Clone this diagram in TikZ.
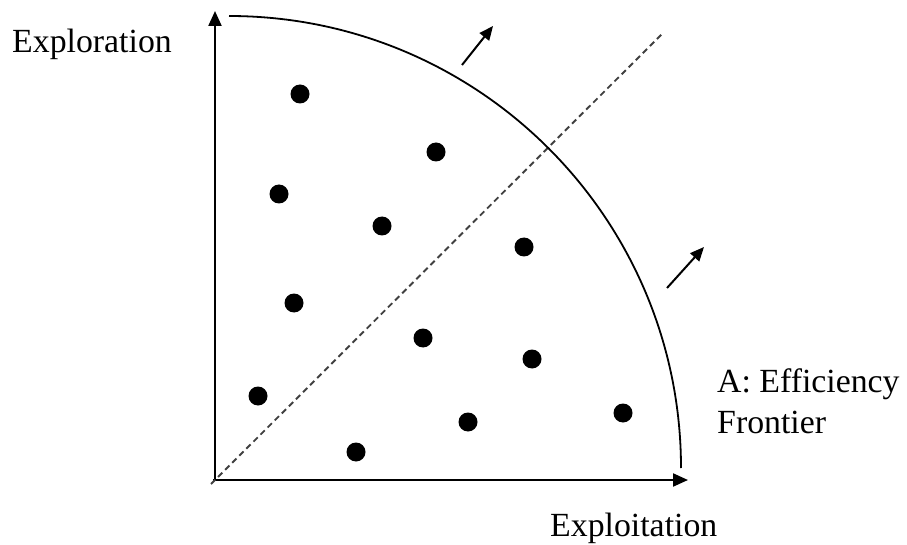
\documentclass[tikz,border=0pt]{standalone}
\usepackage{fontspec}
\setmainfont{Liberation Serif}
\usetikzlibrary{arrows.meta}
\begin{document}
\begin{tikzpicture}[x=1pt,y=-1pt,
  axis/.style={line width=2.2pt,-{Triangle[length=15pt,width=13pt]}},
  pointer/.style={line width=2pt,-{Triangle[length=14pt,width=12pt]}},
  frontier/.style={line width=1.8pt},
  diag/.style={line width=1.9pt,draw=black!75,dash pattern=on 6pt off 4pt},
  dot/.style={circle,fill=black,inner sep=0pt,minimum size=19pt},
  lab/.style={font=\fontsize{33.8}{41}\selectfont,inner sep=0pt,anchor=base west}]
\useasboundingbox (0,0) rectangle (907,545);
\coordinate (O) at (215,480);
\coordinate (Ytip) at (215,11);
\coordinate (Xtip) at (688,480);
\coordinate (Dend) at (663,33);
\coordinate (Dstart) at (211,484);
\coordinate (Ftop) at (229,16);
\draw[axis] (O) -- (Ytip);
\draw[axis] ([xshift=-2pt]O) -- (Xtip);
\draw[diag] (Dstart) -- (Dend);
\draw[frontier] (Ftop) arc[start angle=-90,end angle=0,radius=452];
\coordinate (a1s) at (462,65); \coordinate (a1e) at (493,26);
\coordinate (a2s) at (667,288); \coordinate (a2e) at (704,247);
\draw[pointer] (a1s) -- (a1e);
\draw[pointer] (a2s) -- (a2e);
\node[dot] (d1) at (300,94) {};
\node[dot] (d2) at (436,152) {};
\node[dot] (d3) at (279,194) {};
\node[dot] (d4) at (382,226) {};
\node[dot] (d5) at (524,247) {};
\node[dot] (d6) at (294,303) {};
\node[dot] (d7) at (423,338) {};
\node[dot] (d8) at (532,359) {};
\node[dot] (d9) at (258,396) {};
\node[dot] (d10) at (468,422) {};
\node[dot] (d11) at (623,413) {};
\node[dot] (d12) at (356,452) {};
\node[lab] (ylab) at (12,53) {Exploration};
\node[lab] (xlab) at (550,536) {Exploitation};
\node[lab] (fl1) at (717,392) {A: Efficiency};
\node[lab] (fl2) at (717,433) {Frontier};
\end{tikzpicture}
\end{document}
